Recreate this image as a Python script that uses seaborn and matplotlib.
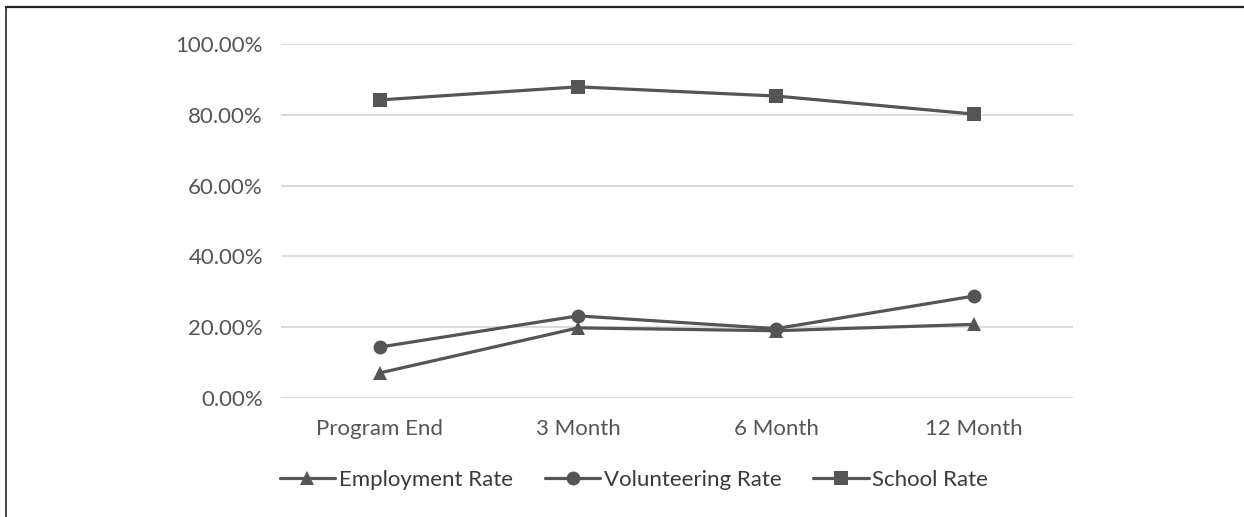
import matplotlib
matplotlib.use("Agg")
import matplotlib.pyplot as plt
import seaborn as sns
import pandas as pd
from matplotlib.lines import Line2D

# Survey follow-up periods and outcome rates (percent)
periods = ["Program End", "3 Month", "6 Month", "12 Month"]
employment_rate = [7.1, 19.8, 19.0, 20.8]
volunteering_rate = [14.4, 23.2, 19.6, 28.8]
school_rate = [84.2, 87.9, 85.3, 80.2]
series_names = ["Employment Rate", "Volunteering Rate", "School Rate"]
y_ticks = [0, 20, 40, 60, 80, 100]

rows = []
for name, vals in zip(series_names, [employment_rate, volunteering_rate, school_rate]):
    for p, v in zip(periods, vals):
        rows.append({"Period": p, "Rate": v, "Series": name})
df = pd.DataFrame(rows)

sns.set_theme(style="white")
plt.rcParams["font.family"] = ["Lato", "DejaVu Sans"]

line_color = "#555555"
text_color = "#555555"
grid_color = "#d9d9d9"
marker_map = {"Employment Rate": "^", "Volunteering Rate": "o", "School Rate": "s"}
font_size = 16

fig = plt.figure(figsize=(12.44, 5.17), dpi=100)
ax = fig.add_axes([281 / 1244, 1 - 398 / 517, (1073 - 281) / 1244, (398 - 44) / 517])

sns.lineplot(
    data=df, x="Period", y="Rate", hue="Series", style="Series",
    markers=marker_map, dashes=False,
    palette=[line_color] * 3, hue_order=series_names, style_order=series_names,
    linewidth=2.3, markersize=10, markeredgewidth=0, sort=False,
    legend=False, ax=ax,
)

ax.set_xlim(-0.5, len(periods) - 0.5)
ax.set_ylim(0, 100)
ax.set_yticks(y_ticks)
ax.set_yticklabels([f"{t:.2f}%" for t in y_ticks])
ax.set_xticks(range(len(periods)))
ax.set_xticklabels(periods)
ax.set_xlabel("")
ax.set_ylabel("")
ax.yaxis.grid(True, color=grid_color, linewidth=1.3)
ax.set_axisbelow(True)
for s in ax.spines.values():
    s.set_visible(False)
ax.tick_params(axis="both", length=0, labelsize=font_size, colors=text_color)
ax.tick_params(axis="y", pad=13)
ax.tick_params(axis="x", pad=15)

handles = [
    Line2D([], [], color=line_color, linewidth=2.3, marker=marker_map[n],
           markersize=10, markeredgewidth=0)
    for n in series_names
]
leg = fig.legend(
    handles, series_names, loc="center", bbox_to_anchor=(0.5096, 1 - 480 / 517),
    ncol=3, frameon=False, fontsize=font_size, handlelength=2.5, handletextpad=0.15,
    columnspacing=1.45,
)
for t in leg.get_texts():
    t.set_color("#3a3a3a")

# Frame strokes along the top and left edges
fig.add_artist(Line2D([6 / 1244, 1], [1 - 7 / 517, 1 - 7 / 517],
                      transform=fig.transFigure, color="#222222", linewidth=1.6))
fig.add_artist(Line2D([6 / 1244, 6 / 1244], [0, 1 - 7 / 517],
                      transform=fig.transFigure, color="#222222", linewidth=1.2))

fig.savefig("out.png", dpi=100, facecolor="white")
